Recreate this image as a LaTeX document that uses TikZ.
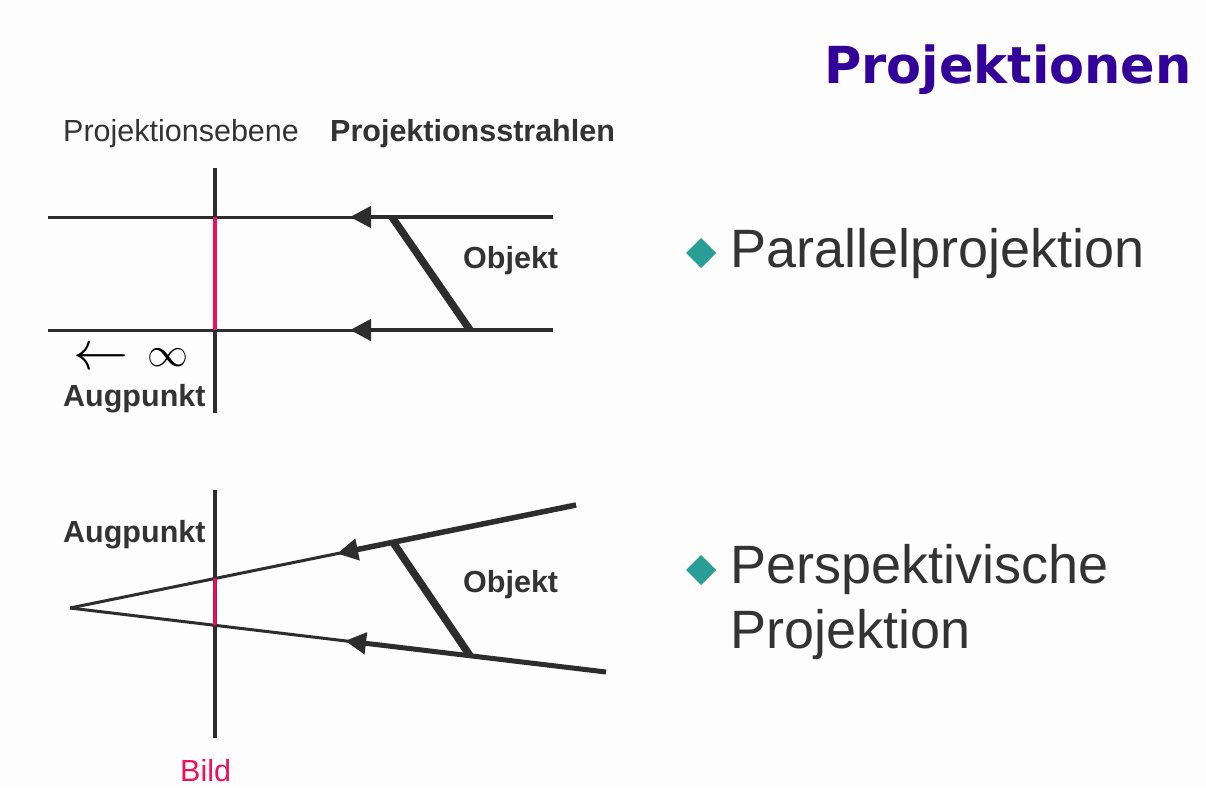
\documentclass[tikz,border=0pt]{standalone}
\usepackage{graphicx}
\usepackage{fontspec}
\setmainfont{Liberation Sans}
\newfontfamily\headfont{DejaVu Sans}
\usetikzlibrary{arrows.meta,calc}

\definecolor{ink}{RGB}{45,45,45}
\definecolor{txt}{RGB}{51,51,51}
\definecolor{imgred}{RGB}{240,16,90}
\definecolor{headpurple}{RGB}{51,0,153}
\definecolor{bullet}{RGB}{40,158,150}
\definecolor{paper}{RGB}{252,253,252}

\tikzset{
  lbl/.style={anchor=base west, inner sep=0pt, text=txt, font=\fontsize{30.5}{36}\selectfont},
  lblbold/.style={lbl, font=\fontsize{30.5}{36}\selectfont\bfseries},
  bigtxt/.style={anchor=base west, inner sep=0pt, text=txt, font=\fontsize{54}{64}\selectfont},
  sym/.style={anchor=west, inner sep=0pt, text=black},
  plane/.style={draw=ink, line width=3.2pt},
  ray/.style={draw=ink, line width=3pt},
  rayhead/.style={draw=ink, line width=4.5pt, {Triangle[length=21pt,width=21pt]}-},
  objline/.style={draw=ink, line width=7.5pt},
  imgseg/.style={draw=imgred, line width=3.2pt},
  diam/.style={fill=bullet, draw=none}
}

\begin{document}
\begin{tikzpicture}[x=1pt, y=-1pt]
  \useasboundingbox (0,0) rectangle (1206,787);
  \fill[paper] (0,0) rectangle (1206,787);

  % heading
  \node[anchor=base east, inner sep=0pt, text=headpurple,
        font=\headfont\bfseries\fontsize{51}{60}\selectfont] (title) at (1192,83) {Projektionen};

  % ---------- parallel projection ----------
  \node[lbl] (ebene) at (63,141) {Projektionsebene};
  \node[lblbold] (strahlen) at (330,141) {Projektionsstrahlen};

  \coordinate (pvtop) at (215,168);
  \coordinate (pvbot) at (215,413);
  \coordinate (pl1) at (48,217);   \coordinate (pr1) at (553,217);
  \coordinate (pl2) at (48,330);   \coordinate (pr2) at (553,330);
  \coordinate (pa1) at (350,217);  \coordinate (pa2) at (350,330);
  \coordinate (po1) at (392,217);  \coordinate (po2) at (470,330);
  \coordinate (pi1) at (215,217);  \coordinate (pi2) at (215,330);

  \draw[plane] (pvtop) -- (pvbot);
  \draw[ray] (pl1) -- (pr1);
  \draw[ray] (pl2) -- (pr2);
  \draw[rayhead] (pa1) -- (pr1);
  \draw[rayhead] (pa2) -- (pr2);
  \draw[objline] (po1) -- (po2);
  \draw[imgseg] (pi1) -- (pi2);

  \node[lblbold] (obj1) at (463,268) {Objekt};
  \node[sym] (toinf) at (73,359) {\scalebox{5.5}{$\leftarrow$}};
  \node[sym] (inf) at (147,358) {\scalebox{4.1}{$\infty$}};
  \node[lblbold] (aug1) at (63,406) {Augpunkt};

  % ---------- perspective projection ----------
  \coordinate (qvtop) at (215,490);
  \coordinate (qvbot) at (215,738);
  \coordinate (eye) at (70,608);
  \coordinate (uend) at (576,505);
  \coordinate (lend) at (606,672);
  \coordinate (utip) at ($(eye)!0.5277!(uend)$);
  \coordinate (ltip) at ($(eye)!0.5131!(lend)$);
  \coordinate (uobj) at ($(eye)!0.6383!(uend)$);
  \coordinate (lobj) at ($(eye)!0.7463!(lend)$);
  \coordinate (uimg) at (intersection of eye--uend and qvtop--qvbot);
  \coordinate (limg) at (intersection of eye--lend and qvtop--qvbot);

  \draw[plane] (qvtop) -- (qvbot);
  \draw[ray] (eye) -- (uend);
  \draw[ray] (eye) -- (lend);
  \draw[rayhead, line width=5.5pt] (utip) -- (uend);
  \draw[rayhead, line width=5pt] (ltip) -- (lend);
  \draw[objline] (uobj) -- (lobj);
  \draw[imgseg] (uimg) -- (limg);

  \node[lblbold] (aug2) at (63,542) {Augpunkt};
  \node[lblbold] (obj2) at (463,592) {Objekt};
  \node[lbl, text=imgred] (bild) at (180,781.5) {Bild};

  % ---------- bullet list ----------
  \fill[diam] (701,238) -- (716,253) -- (701,268) -- (686,253) -- cycle;
  \node[bigtxt] (par) at (730,267) {Parallelprojektion};
  \fill[diam] (701,555) -- (716,570) -- (701,585) -- (686,570) -- cycle;
  \node[bigtxt] (persp) at (730,583) {Perspektivische};
  \node[bigtxt] (proj) at (730,648) {Projektion};
\end{tikzpicture}
\end{document}
